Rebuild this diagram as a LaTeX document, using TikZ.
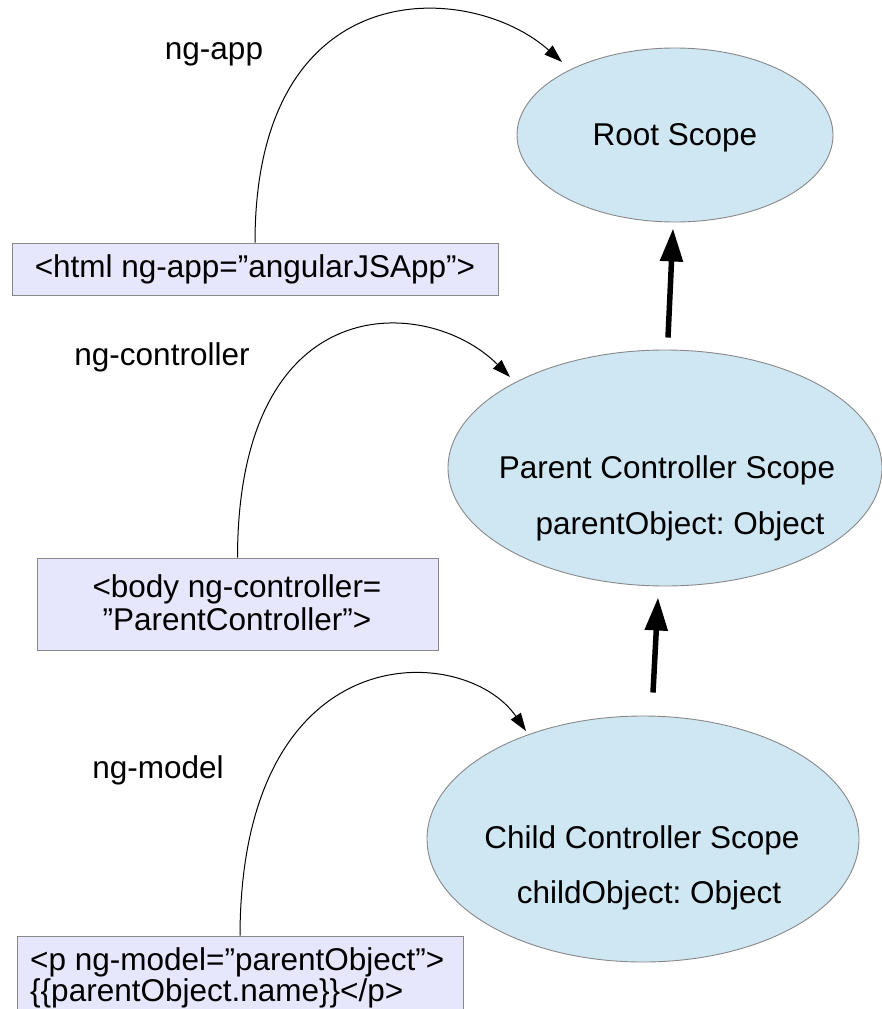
\documentclass[tikz,border=0pt]{standalone}
\usepackage{fontspec}
\setmainfont{Liberation Sans}
\usetikzlibrary{shapes.geometric,arrows.meta}
\definecolor{scopefill}{RGB}{207,230,243}
\definecolor{boxfill}{RGB}{230,230,252}
\definecolor{edgegray}{RGB}{136,136,136}
\frenchspacing
\begin{document}
\begin{tikzpicture}[x=1pt,y=-1pt,
  scopenode/.style={ellipse, draw=edgegray, fill=scopefill, line width=0.9pt, inner sep=0pt},
  tagbox/.style={rectangle, draw=edgegray, fill=boxfill, line width=0.9pt, inner sep=0pt},
  lbl/.style={font=\fontsize{31.5}{33}\selectfont, inner sep=0pt, anchor=base},
  lblw/.style={lbl, anchor=base west},
  dirlink/.style={draw=black, line width=1pt, -{Triangle[length=18pt,width=12pt]}},
  thickarrow/.style={draw=black, line width=5.5pt, -{Triangle[length=33pt,width=22pt]}}
]
\useasboundingbox (0,0) rectangle (882,1009);
\clip (0,0) rectangle (882,1009);

% scopes
\node[scopenode, minimum width=316pt, minimum height=174pt] (root) at (675,135) {};
\node[scopenode, minimum width=434pt, minimum height=236pt] (parent) at (665,468) {};
\node[scopenode, minimum width=432pt, minimum height=246pt] (child) at (643,839) {};

\node[lbl] (roott) at (675,145) {Root Scope};
\node[lbl] (part1) at (667,478) {Parent Controller Scope};
\node[lbl] (part2) at (680,534) {parentObject: Object};
\node[lbl] (cht1) at (642,848) {Child Controller Scope};
\node[lbl] (cht2) at (649,903) {childObject: Object};

% labels
\node[lbl] (appl) at (214,59) {ng-app};
\node[lbl] (ctrll) at (162,365) {ng-controller};
\node[lbl] (modl) at (158,778) {ng-model};

% boxes
\node[tagbox, minimum width=486pt, minimum height=52pt] (box1) at (255,269) {};
\node[lbl] (box1t) at (255,277) {<html ng-app=”angularJSApp”>};

\node[tagbox, minimum width=401pt, minimum height=92pt] (box2) at (237.5,604) {};
\node[lbl] (box2a) at (237,597) {<body ng-controller=};
\node[lbl] (box2b) at (237,630) {”ParentController”>};

\node[tagbox, minimum width=446pt, minimum height=110pt] (box3) at (240,991) {};
\node[lblw] (box3a) at (30,970) {<p ng-model=”parentObject”>};
\node[lblw] (box3b) at (30,1001) {\{\{parentObject.name\}\}</p>};

% curve tips
\coordinate (tip1) at (562,62);
\coordinate (tip2) at (510,377);
\coordinate (tip3) at (526,731);

\draw[dirlink] (box1.north) .. controls (255,-30) and (470,-20) .. (tip1);
\draw[dirlink] (box2.north) .. controls (238,285) and (428,295) .. (tip2);
\draw[dirlink] (box3.north) .. controls (241,631) and (465,642) .. (tip3);

% inheritance arrows
\draw[thickarrow] ([xshift=3pt,yshift=12pt]parent.north) -- ([xshift=-2pt,yshift=-6pt]root.south);
\draw[thickarrow] ([xshift=10pt,yshift=23pt]child.north) -- ([xshift=-7pt,yshift=-11pt]parent.south);
\end{tikzpicture}
\end{document}
